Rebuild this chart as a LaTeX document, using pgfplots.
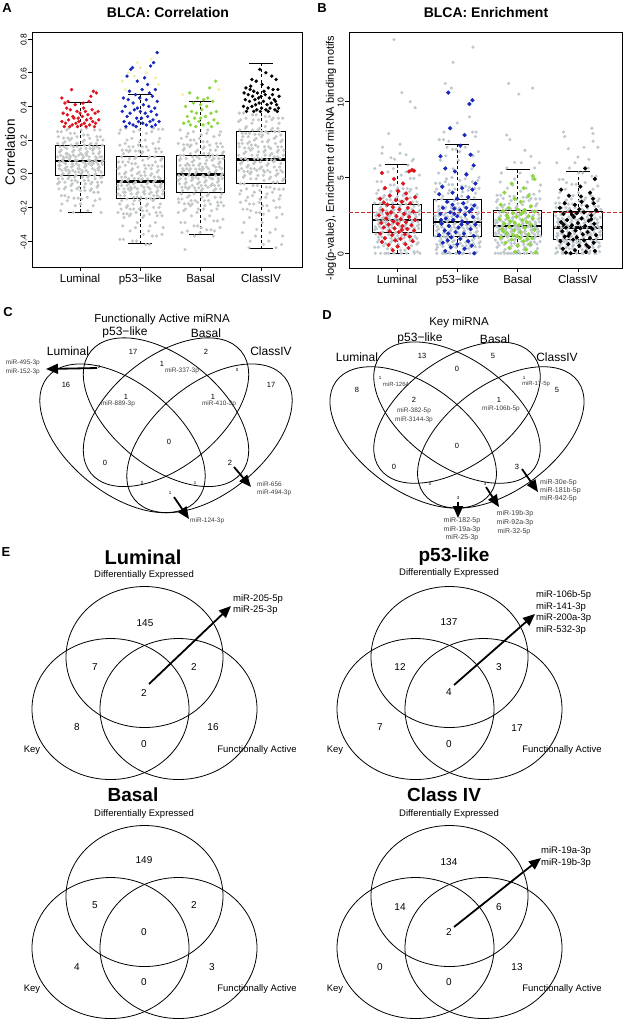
\documentclass[border=0pt]{standalone}
\usepackage{pgfplots}
\pgfplotsset{compat=1.18}
\usepackage{pgfplotstable}
\usepgfplotslibrary{statistics}
\usetikzlibrary{arrows.meta}
\usepackage{fontspec}
\setmainfont{Liberation Sans}
\setsansfont{Liberation Sans}

\definecolor{ptgray}{RGB}{196,199,199}
\definecolor{ptgrayb}{RGB}{190,200,205}
\definecolor{ptred}{RGB}{222,20,30}
\definecolor{ptblue}{RGB}{25,40,190}
\definecolor{ptgreen}{RGB}{140,215,60}
\definecolor{ptyellow}{RGB}{243,238,165}
\definecolor{mirgray}{RGB}{60,60,60}
\definecolor{cutred}{RGB}{205,40,40}

\newcommand{\fs}[1]{\fontsize{#1}{#1}\selectfont}
\newcommand{\T}[4][]{\node[inner sep=0pt,#1] at (axis cs:#2,#3) {#4};}

\tikzset{
  vennarrow/.style={line width=1.8pt, -{Triangle[length=12pt,width=10pt]}},
  earrow/.style={line width=1.8pt, -{Triangle[length=12pt,width=10pt]}},
  venn/.style={line width=0.8pt, black},
}

% jitter offsets (two per row) and values read per category: a* = correlation, b* = enrichment
\pgfplotstableread{
dx dxb aL aP aB aC bL bP bB bC
-0.19 0.12 -0.14 -0.03 -0.08 0.24 1.03 3.05 1.64 4.66
-0.37 -0.07 0.10 -0.23 0.18 0.02 3.32 1.12 0 1.74
0.20 -0.25 -0.05 0.05 -0.03 0.33 1.65 4.34 2.08 0.15
0.01 0.32 0.15 -0.14 -0.32 0.09 4.30 1.68 0.61 2.23
-0.17 0.13 0.01 0.14 0.03 -0.22 2.10 7.00 2.64 0.72
-0.36 -0.05 0.22 -0.09 -0.17 0.16 0 2.26 1.21 3.03
0.22 -0.24 0.06 0.27 0.09 -0.09 2.59 0.45 3.62 1.21
0.03 0.33 -0.15 -0.03 -0.09 0.23 0.98 3.00 1.61 4.44
-0.16 0.15 0.10 -0.24 0.17 0.01 3.25 1.08 0 1.70
-0.34 -0.04 -0.05 0.04 -0.03 0.32 1.62 4.24 2.05 0.08
0.23 -0.22 0.15 -0.15 -0.34 0.08 4.23 1.64 0.57 2.19
0.04 0.35 0.01 0.13 0.03 -0.24 2.07 6.71 2.57 0.69
-0.14 0.16 0.21 -0.09 -0.18 0.15 0 2.21 1.17 2.96
-0.33 -0.02 0.05 0.26 0.09 -0.10 2.55 0.40 3.55 1.18
0.25 -0.21 -0.16 -0.04 -0.09 0.22 0.93 2.94 1.58 4.23
0.06 0.36 0.10 -0.25 0.16 0.01 3.18 1.03 5.97 1.67
-0.13 0.18 -0.06 0.03 -0.03 0.32 1.58 4.15 2.01 0
-0.31 -0.01 0.14 -0.16 -0.35 0.07 4.16 1.60 0.53 2.16
0.26 -0.19 0.00 0.13 0.02 -0.26 2.04 6.43 2.50 0.65
0.07 0.38 0.20 -0.10 -0.19 0.14 0 2.16 1.12 2.89
-0.11 0.19 0.05 0.25 0.08 -0.11 2.52 0.32 3.48 1.14
-0.30 0.01 -0.18 -0.04 -0.10 0.22 0.89 2.89 1.55 4.01
0.28 -0.18 0.09 -0.25 0.16 0.00 3.11 0.99 5.63 1.63
0.09 -0.37 -0.06 0.03 -0.04 0.31 1.55 4.05 1.98 0
-0.10 0.21 0.14 -0.16 -0.37 0.07 4.09 1.56 0.49 2.12
-0.28 0.02 0.00 0.12 0.02 -0.29 2.01 6.14 2.47 0.62
0.29 -0.17 0.20 -0.10 -0.19 0.14 0 2.10 1.08 2.82
0.10 -0.35 0.05 0.24 0.08 -0.12 2.48 0.24 3.41 1.11
-0.08 0.22 -0.19 -0.05 -0.10 0.21 0.84 2.84 1.53 3.80
-0.27 0.04 0.09 -0.26 0.15 -0.01 3.04 0.94 5.30 1.60
0.30 -0.15 -0.07 0.02 -0.04 0.30 1.50 3.96 1.94 0
0.12 -0.34 0.13 -0.18 0.26 0.06 3.95 1.49 0.40 2.05
-0.07 0.24 -0.01 0.10 0.01 -0.33 1.94 5.57 2.40 0.55
-0.25 0.05 0.19 -0.11 -0.21 0.13 6.60 2.01 1.00 2.68
0.32 -0.14 0.04 0.21 0.07 -0.13 2.41 0.08 3.27 1.04
0.13 -0.32 -0.22 -0.05 -0.12 0.20 0.74 2.73 1.47 3.66
-0.05 0.25 0.08 -0.29 0.14 -0.01 2.90 0.85 4.90 1.53
-0.24 0.07 -0.08 0.01 -0.05 0.28 1.41 3.77 1.87 0
0.33 -0.12 0.13 -0.18 0.25 0.06 3.88 1.45 0.32 2.02
0.15 -0.31 -0.01 0.10 0.01 -0.35 1.91 5.29 2.36 0.51
-0.04 0.27 0.18 -0.11 -0.21 0.13 6.20 1.98 0.95 2.61
-0.22 0.08 0.04 0.20 0.06 -0.14 2.38 0 3.20 1.00
0.35 -0.11 -0.23 -0.06 -0.12 0.20 0.70 2.68 1.44 3.59
0.16 -0.29 0.08 -0.31 0.14 -0.02 2.87 0.81 4.70 1.49
-0.02 0.28 -0.08 0.01 -0.05 0.27 1.36 3.67 1.84 0
-0.21 0.10 0.12 -0.19 0.24 0.05 3.81 1.41 0.24 1.98
0.36 -0.09 -0.02 0.09 0.00 -0.37 1.88 5.00 2.33 0.48
0.18 -0.28 0.18 -0.11 -0.22 0.12 5.80 1.94 0.91 2.54
-0.01 0.30 0.03 0.19 0.06 -0.15 2.34 0 3.13 0.97
-0.19 0.11 0.27 -0.06 -0.13 0.19 0.65 2.63 1.42 3.52
0.38 -0.08 0.08 -0.32 0.13 -0.03 2.83 0.76 4.50 1.46
0.19 -0.26 -0.09 0.00 -0.06 0.27 1.31 3.58 1.80 0
0.01 0.31 0.12 -0.20 0.23 0.04 3.74 1.38 0.16 1.95
-0.18 0.13 -0.02 0.09 0.00 -0.40 1.84 4.91 2.29 0.44
-0.37 -0.06 0.18 -0.12 -0.23 0.11 5.59 1.90 0.87 2.47
0.21 -0.25 0.03 0.18 0.05 -0.16 2.31 0 3.06 0.93
0.02 0.33 0.26 -0.07 -0.14 0.19 0.60 2.58 1.39 3.45
-0.17 0.14 0.08 -0.34 0.12 -0.03 2.80 0.72 4.30 1.42
-0.35 -0.05 -0.09 0.00 -0.06 0.26 1.27 3.48 1.77 5.97
0.22 -0.23 0.12 -0.20 0.22 0.04 3.67 1.34 0.08 1.91
0.04 0.34 -0.02 0.08 -0.01 -0.42 1.81 4.81 2.26 0.41
-0.15 0.15 0.17 -0.12 -0.25 0.11 5.37 1.86 0.83 2.40
-0.34 -0.03 0.03 0.17 0.05 -0.17 2.27 0 2.99 0.90
0.24 -0.22 0.26 -0.07 -0.14 0.18 0.50 2.52 1.36 3.38
0.05 0.36 0.07 -0.36 0.12 -0.04 2.76 0.67 4.10 1.39
-0.14 0.17 -0.10 -0.01 -0.07 0.26 1.22 3.39 1.75 5.63
-0.32 -0.02 0.11 -0.21 0.21 0.03 3.60 1.30 0 1.88
0.25 -0.20 -0.03 0.07 -0.01 -0.44 1.78 4.72 2.22 0.37
0.07 0.37 0.17 -0.12 -0.27 0.11 5.16 1.83 0.78 2.37
-0.12 -0.19 0.02 0.16 0.05 -0.18 2.24 0 2.92 0.86
-0.31 -0.37 0.25 -0.07 -0.15 0.18 0.40 2.47 1.33 3.31
0.27 0.20 0.07 -0.37 0.11 -0.05 2.73 0.63 3.90 1.35
0.08 0.01 -0.10 -0.01 -0.07 0.25 1.17 3.29 1.72 5.30
-0.11 -0.17 0.11 -0.21 0.20 0.03 3.53 1.26 0 1.84
-0.29 -0.36 -0.03 0.07 -0.01 0.36 1.75 4.62 2.19 0.34
0.28 0.22 0.16 -0.13 -0.28 0.10 4.94 1.79 0.74 2.33
0.10 0.03 0.02 0.16 0.04 -0.19 2.20 0 2.85 0.83
-0.09 -0.16 0.24 -0.08 -0.16 0.17 0.30 2.42 1.31 3.24
-0.28 -0.34 0.07 -0.39 0.11 -0.06 2.69 0.58 3.83 1.32
0.30 0.23 -0.11 -0.02 -0.07 0.25 1.12 3.20 1.69 5.09
0.11 0.04 0.11 -0.22 0.19 0.02 3.46 1.21 0 1.81
-0.08 -0.14 -0.04 0.06 -0.02 0.35 1.71 4.53 2.15 0.30
-0.26 -0.33 0.16 -0.13 -0.29 0.09 4.73 1.75 0.70 2.30
0.31 0.25 0.02 0.15 0.04 -0.20 2.17 8.00 2.78 0.79
0.13 0.06 0.23 -0.08 -0.16 0.16 0.20 2.37 1.28 3.17
-0.06 -0.13 0.06 -0.40 0.10 -0.07 2.66 0.54 3.76 1.28
-0.25 -0.31 -0.13 -0.02 -0.08 0.24 1.08 3.10 1.66 4.87
0.33 0.26 0.10 -0.23 0.18 0.02 3.39 1.17 0 1.77
0.14 0.07 -0.04 0.05 -0.02 0.34 1.68 4.43 2.12 0.23
-0.05 -0.11 0.16 -0.14 -0.31 0.09 4.51 1.71 0.66 2.26
-0.23 -0.30 0.02 0.14 0.03 -0.21 2.14 7.50 2.71 0.76
0.34 0.28 0.22 -0.08 -0.17 0.16 0.10 2.31 1.25 3.10
0.15 0.09 0.06 -0.42 0.10 -0.08 2.62 0.49 3.69 1.25
-0.03 -0.10 -0.145 -0.028 -0.084 0.234 1.00 3.03 1.62 4.55
-0.22 -0.28 0.100 -0.238 0.172 0.013 3.29 1.10 0 1.72
0.36 0.29 -0.051 0.044 -0.028 0.330 1.64 4.29 2.07 0.11
0.17 0.10 0.150 -0.147 -0.333 0.083 4.27 1.66 0.59 2.21
-0.02 -0.08 0.010 0.135 0.028 -0.231 2.09 6.86 2.61 0.71
-0.20 -0.27 0.212 -0.090 -0.178 0.153 0 2.24 1.19 3.00
0.37 0.30 0.056 0.264 0.090 -0.092 2.57 0.43 3.59 1.20
}\jitter

\pgfplotsset{
  boxstyle/.style={
    boxplot/draw direction=y,
    boxplot/box extend=0.8, boxplot/whisker extend=0.4,
    boxplot/every box/.style={line width=0.9pt},
    boxplot/every whisker/.style={line width=0.9pt},
    boxplot/every median/.style={line width=2.4pt},
    boxplot/draw/lower whisker/.code={%
      \draw[/pgfplots/boxplot/every whisker/.try, dash pattern=on 3pt off 2.5pt]
        (boxplot box cs:\pgfplotsboxplotvalue{lower whisker},0.5)
        -- (boxplot box cs:\pgfplotsboxplotvalue{lower quartile},0.5);
      \draw[/pgfplots/boxplot/every whisker/.try]
        (boxplot whisker cs:\pgfplotsboxplotvalue{lower whisker},0)
        -- (boxplot whisker cs:\pgfplotsboxplotvalue{lower whisker},1);
    },
    boxplot/draw/upper whisker/.code={%
      \draw[/pgfplots/boxplot/every whisker/.try, dash pattern=on 3pt off 2.5pt]
        (boxplot box cs:\pgfplotsboxplotvalue{upper whisker},0.5)
        -- (boxplot box cs:\pgfplotsboxplotvalue{upper quartile},0.5);
      \draw[/pgfplots/boxplot/every whisker/.try]
        (boxplot whisker cs:\pgfplotsboxplotvalue{upper whisker},0)
        -- (boxplot whisker cs:\pgfplotsboxplotvalue{upper whisker},1);
    },
  },
  panel/.style={
    scale only axis, tick align=outside, tick pos=left, major tick length=4pt,
    every tick/.style={black, line width=0.7pt},
    axis line style={line width=0.9pt},
    xtick={1,2,3,4}, xticklabels={Luminal,p53−like,Basal,ClassIV},
    xticklabel style={font=\fs{11.5}, inner sep=1pt, yshift=-2pt},
    yticklabel style={font=\fs{8.5}, rotate=90, anchor=south, inner sep=1pt, xshift=-1pt},
    /pgf/number format/assume math mode=true,
    boxstyle,
  },
  gray pts/.style={only marks, mark=*, mark size=1.4pt, #1},
}

\begin{document}
\begin{tikzpicture}
\path (0pt,0pt) rectangle (634pt,-1020pt);

% ---------- A: correlation ----------
\begin{axis}[panel, at={(32pt,-32pt)}, anchor=north west, width=270pt, height=235pt,
  xmin=0.204, xmax=4.68, ymin=-0.554, ymax=0.842,
  ytick={-0.4,-0.2,0,0.2,0.4,0.6,0.8},
  yticklabel style={/pgf/number format/fixed, /pgf/number format/fixed zerofill, /pgf/number format/precision=1}]
\addplot[gray pts=ptgray] table[x expr=\thisrow{dx}+1, y=aL] {\jitter};
\addplot[gray pts=ptgray] table[x expr=\thisrow{dxb}+1, y=aL] {\jitter};
\addplot[gray pts=ptgray] table[x expr=\thisrow{dx}+2, y=aP] {\jitter};
\addplot[gray pts=ptgray] table[x expr=\thisrow{dxb}+2, y=aP] {\jitter};
\addplot[gray pts=ptgray] table[x expr=\thisrow{dx}+3, y=aB] {\jitter};
\addplot[gray pts=ptgray] table[x expr=\thisrow{dxb}+3, y=aB] {\jitter};
\addplot[gray pts=ptgray] table[x expr=\thisrow{dx}+4, y=aC] {\jitter};
\addplot[gray pts=ptgray] table[x expr=\thisrow{dxb}+4, y=aC] {\jitter};
\addplot[gray pts=ptgray] coordinates {(2.74,-0.45)};
\addplot[black, boxplot prepared={draw position=1, median=0.075, lower quartile=-0.01, upper quartile=0.17, lower whisker=-0.23, upper whisker=0.425}] coordinates {};
\addplot[black, boxplot prepared={draw position=2, median=-0.045, lower quartile=-0.145, upper quartile=0.105, lower whisker=-0.415, upper whisker=0.47}] coordinates {};
\addplot[black, boxplot prepared={draw position=3, median=-0.005, lower quartile=-0.11, upper quartile=0.11, lower whisker=-0.36, upper whisker=0.43}] coordinates {};
\addplot[black, boxplot prepared={draw position=4, median=0.085, lower quartile=-0.06, upper quartile=0.25, lower whisker=-0.445, upper whisker=0.655}] coordinates {};
\addplot[gray pts=ptyellow] coordinates {(1.80,0.60)(2.00,0.63)(2.10,0.60)(1.90,0.58)(2.25,0.57)(1.70,0.55)(2.30,0.53)(1.75,0.50)(2.18,0.68)(1.95,0.66)(2.70,0.47)(3.30,0.50)};
\addplot[only marks, mark=*, mark size=1.5pt, ptred] coordinates {(0.70,0.45)(0.75,0.42)(0.80,0.43)(0.86,0.50)(1.05,0.42)(1.18,0.46)(1.22,0.49)(1.27,0.48)(1.15,0.43)(0.92,0.41)(0.72,0.36)(0.79,0.35)(0.84,0.38)(0.90,0.33)(0.95,0.37)(1.00,0.36)(1.04,0.34)(1.09,0.37)(1.13,0.35)(1.20,0.38)(1.25,0.36)(1.30,0.37)(0.70,0.31)(0.76,0.30)(0.81,0.32)(0.87,0.29)(0.93,0.30)(0.98,0.31)(1.02,0.29)(1.07,0.30)(1.11,0.32)(1.16,0.29)(1.21,0.31)(1.26,0.30)(1.31,0.32)(0.74,0.28)(0.83,0.28)(0.96,0.28)(1.10,0.28)(1.24,0.28)(0.88,0.34)(1.18,0.33)(0.78,0.39)(1.06,0.39)(0.97,0.33)};
\addplot[only marks, mark=*, mark size=1.5pt, ptblue] coordinates {(2.28,0.72)(2.22,0.66)(1.87,0.63)(1.84,0.62)(2.17,0.64)(1.78,0.58)(2.07,0.57)(1.95,0.55)(2.12,0.53)(2.03,0.50)(2.25,0.50)(1.82,0.49)(2.15,0.48)(1.92,0.47)(1.72,0.45)(1.80,0.44)(1.99,0.45)(2.10,0.44)(2.20,0.46)(2.28,0.43)(1.88,0.42)(2.05,0.41)(1.75,0.40)(1.95,0.39)(2.14,0.40)(2.24,0.39)(1.70,0.37)(1.83,0.36)(1.90,0.38)(2.00,0.37)(2.08,0.36)(2.18,0.37)(2.27,0.35)(1.78,0.34)(1.94,0.33)(2.12,0.34)(2.21,0.32)(1.73,0.31)(1.82,0.30)(1.88,0.29)(1.97,0.31)(2.04,0.30)(2.10,0.29)(2.16,0.31)(2.25,0.29)(2.31,0.31)(1.76,0.28)(1.93,0.28)(2.19,0.28)(2.02,0.33)};
\addplot[only marks, mark=*, mark size=1.5pt, ptgreen] coordinates {(2.82,0.48)(3.25,0.55)(3.15,0.51)(2.95,0.45)(3.05,0.44)(3.12,0.45)(2.88,0.42)(3.20,0.43)(2.75,0.40)(3.00,0.41)(3.10,0.40)(2.85,0.37)(2.93,0.36)(3.02,0.38)(3.17,0.36)(3.26,0.37)(2.78,0.34)(2.90,0.33)(3.08,0.34)(3.22,0.32)(2.72,0.30)(2.83,0.29)(2.97,0.31)(3.04,0.29)(3.13,0.30)(3.28,0.30)(2.92,0.28)(3.18,0.28)(3.00,0.33)(2.80,0.31)};
\addplot[only marks, mark=*, mark size=1.5pt, black] coordinates {(3.98,0.62)(4.08,0.60)(4.18,0.58)(4.25,0.56)(3.85,0.56)(3.92,0.55)(4.02,0.53)(3.75,0.51)(3.82,0.50)(3.88,0.49)(4.12,0.51)(4.20,0.50)(4.28,0.50)(3.72,0.48)(3.79,0.47)(3.86,0.46)(3.94,0.48)(4.00,0.46)(4.07,0.47)(4.14,0.45)(4.22,0.44)(4.30,0.46)(3.74,0.44)(3.81,0.43)(3.90,0.44)(3.97,0.42)(4.04,0.43)(4.10,0.41)(4.17,0.42)(4.26,0.41)(3.71,0.40)(3.78,0.39)(3.85,0.40)(3.93,0.38)(4.01,0.39)(4.08,0.38)(4.15,0.39)(4.23,0.38)(4.29,0.39)(3.76,0.37)(3.88,0.37)(3.99,0.37)(4.12,0.37)(4.27,0.37)(3.83,0.52)(4.05,0.49)(3.96,0.45)(4.19,0.47)(3.91,0.41)(4.24,0.43)};
\end{axis}

% ---------- B: enrichment ----------
\begin{axis}[panel, at={(349pt,-32pt)}, anchor=north west, width=273pt, height=236pt,
  xmin=0.204, xmax=4.73, ymin=-0.97, ymax=14.6, ytick={0,5,10}]
\addplot[gray pts=ptgrayb] table[x expr=\thisrow{dx}+1, y=bL] {\jitter};
\addplot[gray pts=ptgrayb] table[x expr=\thisrow{dxb}+1, y=bL] {\jitter};
\addplot[gray pts=ptgrayb] table[x expr=\thisrow{dx}+2, y=bP] {\jitter};
\addplot[gray pts=ptgrayb] table[x expr=\thisrow{dxb}+2, y=bP] {\jitter};
\addplot[gray pts=ptgrayb] table[x expr=\thisrow{dx}+3, y=bB] {\jitter};
\addplot[gray pts=ptgrayb] table[x expr=\thisrow{dxb}+3, y=bB] {\jitter};
\addplot[gray pts=ptgrayb] table[x expr=\thisrow{dx}+4, y=bC] {\jitter};
\addplot[gray pts=ptgrayb] table[x expr=\thisrow{dxb}+4, y=bC] {\jitter};
\addplot[gray pts=ptgrayb] coordinates {(0.95,14.1)(1.08,10.6)(1.30,9.6)(1.22,10.0)(0.86,7.9)(0.76,7.0)(1.05,7.2)(1.15,6.5)(0.90,6.3)(1.25,6.1)(2.26,13.6)(1.93,12.6)(1.80,11.2)(1.90,10.9)(2.20,9.0)(1.78,8.0)(2.30,7.7)(2.00,8.6)(1.86,7.4)(2.85,11.2)(3.02,10.5)(3.25,10.9)(2.82,7.8)(2.87,7.5)(3.22,6.4)(2.95,6.0)(3.12,6.8)(3.76,8.0)(3.78,7.7)(4.23,8.25)(4.25,7.9)(4.10,7.0)(4.33,7.0)(4.25,7.4)(4.00,6.35)(3.84,6.9)(4.18,6.2)};
\addplot[black, boxplot prepared={draw position=1, median=2.2, lower quartile=1.4, upper quartile=3.2, lower whisker=0, upper whisker=5.85}] coordinates {};
\addplot[black, boxplot prepared={draw position=2, median=2.05, lower quartile=1.1, upper quartile=3.55, lower whisker=0, upper whisker=7.2}] coordinates {};
\addplot[black, boxplot prepared={draw position=3, median=1.8, lower quartile=1.1, upper quartile=2.85, lower whisker=0, upper whisker=5.5}] coordinates {};
\addplot[black, boxplot prepared={draw position=4, median=1.7, lower quartile=0.9, upper quartile=2.75, lower whisker=0, upper whisker=5.4}] coordinates {};
\addplot[only marks, mark=*, mark size=1.9pt, ptred] coordinates {(0.75,5.3)(1.20,5.4)(1.25,5.5)(1.28,5.45)(0.95,4.9)(1.10,4.6)(0.80,4.3)(1.02,4.1)(1.15,3.95)(0.88,3.8)(1.30,3.7)(0.72,3.6)(0.98,3.5)(1.08,3.4)(1.22,3.3)(0.84,3.2)(0.93,3.05)(1.18,3.0)(1.04,2.9)(0.76,2.85)(1.27,2.75)(0.90,2.7)(1.12,2.6)(0.70,2.5)(0.99,2.45)(1.20,2.4)(0.82,2.3)(1.06,2.25)(1.30,2.2)(0.94,2.1)(1.15,2.05)(0.74,2.0)(1.01,1.95)(0.86,1.9)(1.24,1.85)(1.09,1.8)(0.78,1.7)(0.96,1.65)(1.17,1.6)(1.28,1.5)(0.88,1.45)(1.03,1.4)(0.72,1.3)(1.13,1.25)(0.92,1.2)(1.21,1.1)(0.80,1.0)(1.06,0.95)(0.97,0.85)(1.26,0.8)(0.75,0.75)(1.14,0.6)(0.86,0.55)(1.01,0.45)(1.19,0.35)(0.93,0.2)(1.08,1.55)(0.84,2.6)(1.16,3.6)(0.78,3.35)};
\addplot[only marks, mark=*, mark size=1.9pt, ptblue] coordinates {(1.85,10.6)(2.25,10.1)(2.20,9.85)(1.88,8.25)(2.12,7.8)(2.05,7.1)(2.22,6.5)(1.72,6.4)(2.27,5.8)(1.80,5.6)(1.96,5.4)(2.15,5.2)(2.30,4.6)(1.75,4.4)(2.08,4.3)(2.25,4.2)(1.92,4.0)(1.70,3.9)(2.18,3.7)(2.00,3.6)(1.83,3.4)(2.10,3.3)(2.28,3.15)(1.76,3.0)(1.95,2.95)(2.05,2.85)(2.20,2.75)(1.88,2.7)(1.72,2.6)(2.13,2.55)(2.00,2.45)(2.26,2.4)(1.81,2.3)(1.93,2.2)(2.08,2.1)(2.17,2.0)(1.74,1.95)(2.30,1.9)(1.86,1.8)(2.02,1.7)(2.22,1.6)(1.79,1.5)(1.97,1.4)(2.11,1.3)(1.70,1.2)(2.27,1.15)(1.90,1.05)(2.05,0.95)(1.84,0.85)(2.18,0.8)(1.76,0.7)(2.00,0.6)(2.24,0.5)(1.89,0.4)(2.12,0.3)(1.80,0.15)(2.03,0.05)(2.28,0.0)(1.95,2.6)(2.15,3.0)(1.73,2.2)(2.07,1.9)(1.92,3.2)(2.24,2.9)(1.85,1.3)};
\addplot[only marks, mark=*, mark size=1.9pt, ptgreen] coordinates {(3.25,5.1)(3.28,4.9)(2.90,4.6)(3.10,4.3)(2.78,4.0)(3.18,3.8)(2.95,3.6)(3.05,3.4)(2.72,3.2)(3.22,3.1)(2.85,3.0)(3.00,2.9)(3.12,2.85)(2.76,2.8)(3.28,2.75)(2.92,2.65)(3.06,2.6)(2.82,2.5)(3.18,2.45)(2.98,2.4)(3.25,2.3)(2.70,2.25)(3.08,2.2)(2.88,2.1)(3.15,2.05)(2.95,2.0)(2.78,1.95)(3.22,1.9)(3.02,1.85)(2.86,1.75)(3.12,1.7)(2.74,1.6)(3.28,1.55)(2.94,1.5)(3.05,1.4)(2.82,1.3)(3.18,1.25)(2.99,1.15)(2.72,1.05)(3.24,1.0)(2.90,0.9)(3.10,0.8)(2.80,0.7)(3.20,0.6)(3.00,0.5)(2.86,0.35)(3.14,0.25)(2.96,0.1)(3.30,0.05)(2.76,1.45)(3.08,2.7)(2.92,1.2)(3.16,0.95)(2.84,2.35)(3.04,1.0)};
\addplot[only marks, mark=*, mark size=1.9pt, black] coordinates {(4.12,5.6)(4.28,4.9)(3.72,4.2)(4.20,4.0)(3.85,3.8)(4.05,3.75)(4.25,3.6)(3.78,3.3)(3.95,3.2)(4.15,3.1)(3.70,3.0)(4.02,2.9)(4.30,2.85)(3.88,2.75)(4.10,2.7)(3.76,2.6)(4.22,2.5)(3.93,2.4)(4.06,2.3)(3.82,2.2)(4.18,2.15)(3.72,2.05)(4.00,2.0)(4.27,1.95)(3.90,1.85)(4.12,1.8)(3.80,1.7)(4.04,1.65)(4.24,1.6)(3.96,1.5)(3.74,1.45)(4.16,1.4)(3.86,1.3)(4.08,1.25)(4.30,1.2)(3.78,1.1)(3.98,1.05)(4.20,1.0)(3.92,0.9)(4.10,0.85)(3.71,0.8)(4.26,0.7)(3.84,0.6)(4.02,0.5)(4.18,0.4)(3.75,0.3)(3.95,0.2)(4.13,0.1)(3.88,0.0)(4.28,0.15)(3.80,0.05)(4.06,3.4)(3.90,2.55)(4.22,2.25)(3.76,1.9)(4.14,0.55)(3.98,2.65)(4.26,3.3)(3.84,1.15)(4.04,4.4)};
\addplot[cutred, line width=0.8pt, dash pattern=on 4pt off 2pt] coordinates {(0.204,2.7) (4.73,2.7)};
\end{axis}

% ---------- overlay: titles and Venn diagrams (pixel coordinates) ----------
\begin{axis}[at={(0pt,0pt)}, anchor=north west, scale only axis, width=634pt, height=1020pt,
  xmin=0, xmax=634, ymin=0, ymax=1020, y dir=reverse, hide axis, clip=false]
\T{7}{8}{\fs{13}\bfseries A}
\T{322}{8}{\fs{13}\bfseries B}
\T{168}{12}{\fs{14}\bfseries BLCA: Correlation}
\T{486}{12}{\fs{14}\bfseries BLCA: Enrichment}
\T[rotate=90]{10}{152}{\fs{13.5}Correlation}
\T[rotate=90]{331}{158}{\fs{11}-log(p-value), Enrichment of miRNA binding motifs}

% ---------- C ----------
\draw[venn, rotate around={-39.1:(axis cs:122.5,438.3)}] (axis cs:122.5,438.3) ellipse [x radius=96.8, y radius=54.7];
\draw[venn, rotate around={-39.1:(axis cs:166,412.2)}] (axis cs:166,412.2) ellipse [x radius=96.8, y radius=54.7];
\draw[venn, rotate around={39.1:(axis cs:166,412.2)}] (axis cs:166,412.2) ellipse [x radius=96.8, y radius=54.7];
\draw[venn, rotate around={39.1:(axis cs:209.5,438.3)}] (axis cs:209.5,438.3) ellipse [x radius=96.8, y radius=54.7];
\T{8}{312}{\fs{13}\bfseries C}
\T{162}{320}{\fs{11.5}Functionally Active miRNA}
\T{125}{332}{\fs{12}p53−like}
\T{206}{333}{\fs{12}Basal}
\T{68}{351}{\fs{12}Luminal}
\T{271}{351}{\fs{12}ClassIV}
\T{133}{352}{\fs{7.5}17}
\T{206}{352}{\fs{7.5}2}
\T{66}{385}{\fs{7.5}16}
\T{271}{385}{\fs{7.5}17}
\T{99}{367}{\fs{4.5}2}
\T{237}{370}{\fs{4.5}0}
\T{162}{364}{\fs{7.5}1}
\T{182}{371}{\color{mirgray}\fs{6.5}miR-337-3p}
\T{126}{397}{\fs{7.5}1}
\T{118}{404}{\color{mirgray}\fs{6.5}miR-889-3p}
\T{213}{397}{\fs{7.5}1}
\T{219}{404}{\color{mirgray}\fs{6.5}miR-410-3p}
\T{169}{442}{\fs{7.5}0}
\T{105}{463}{\fs{7.5}0}
\T{230}{463}{\fs{7.5}2}
\T{142}{483}{\fs{4.5}0}
\T{195}{483}{\fs{4.5}1}
\T{170}{493}{\fs{4.5}1}
\draw[vennarrow] (axis cs:97,368) -- (axis cs:46,369);
\draw[vennarrow] (axis cs:234,467) -- (axis cs:251,487);
\draw[vennarrow] (axis cs:174,497) -- (axis cs:189,519);
\T[anchor=east]{40}{363}{\color{mirgray}\fs{6.5}miR-495-3p}
\T[anchor=east]{40}{372}{\color{mirgray}\fs{6.5}miR-152-3p}
\T[anchor=west]{257}{484}{\color{mirgray}\fs{6.5}miR-656}
\T[anchor=west]{257}{493}{\color{mirgray}\fs{6.5}miR-494-3p}
\T[anchor=west]{190}{521}{\color{mirgray}\fs{6.5}miR-124-3p}

% ---------- D ----------
\draw[venn, rotate around={-36.05:(axis cs:413.2,437.4)}] (axis cs:413.2,437.4) ellipse [x radius=95.4, y radius=53.1];
\draw[venn, rotate around={-36.05:(axis cs:457,412.6)}] (axis cs:457,412.6) ellipse [x radius=95.4, y radius=53.1];
\draw[venn, rotate around={36.05:(axis cs:457,412.6)}] (axis cs:457,412.6) ellipse [x radius=95.4, y radius=53.1];
\draw[venn, rotate around={36.05:(axis cs:500.8,437.4)}] (axis cs:500.8,437.4) ellipse [x radius=95.4, y radius=53.1];
\T{327}{315}{\fs{13}\bfseries D}
\T{459}{323}{\fs{11.5}Key miRNA}
\T{420}{338}{\fs{12}p53−like}
\T{495}{339}{\fs{12}Basal}
\T{357}{357}{\fs{12}Luminal}
\T{557}{357}{\fs{12}ClassIV}
\T{422}{356}{\fs{7.5}13}
\T{493}{356}{\fs{7.5}5}
\T{357}{390}{\fs{7.5}8}
\T{557}{390}{\fs{7.5}5}
\T{457}{369}{\fs{7.5}0}
\T{380}{378}{\fs{4.5}1}
\T{396}{384}{\color{mirgray}\fs{6}miR-1264}
\T{524}{378}{\fs{4.5}1}
\T{536}{384}{\color{mirgray}\fs{6}miR-17-5p}
\T{414}{400}{\fs{7.5}2}
\T{414}{411}{\color{mirgray}\fs{6.5}miR-382-5p}
\T{414}{420}{\color{mirgray}\fs{6.5}miR-3144-3p}
\T{499}{400}{\fs{7.5}1}
\T{501}{409}{\color{mirgray}\fs{6.5}miR-106b-5p}
\T{457}{446}{\fs{7.5}0}
\T{394}{467}{\fs{7.5}0}
\T{517}{467}{\fs{7.5}3}
\T{430}{484}{\fs{4.5}0}
\T{485}{484}{\fs{4.5}3}
\T{458}{498}{\fs{4.5}3}
\draw[vennarrow] (axis cs:522,469) -- (axis cs:538,492);
\draw[vennarrow] (axis cs:486,487) -- (axis cs:499,507);
\draw[vennarrow] (axis cs:458,502) -- (axis cs:458,518);
\T[anchor=west]{540}{483}{\color{mirgray}\fs{7}miR-30e-5p}
\T[anchor=west]{540}{491}{\color{mirgray}\fs{7}miR-181b-5p}
\T[anchor=west]{540}{499}{\color{mirgray}\fs{7}miR-942-5p}
\T{515}{514}{\color{mirgray}\fs{7}miR-19b-3p}
\T{515}{523}{\color{mirgray}\fs{7}miR-92a-3p}
\T{514}{532}{\color{mirgray}\fs{7}miR-32-5p}
\T{462}{521}{\color{mirgray}\fs{7}miR-182-5p}
\T{462}{530}{\color{mirgray}\fs{7}miR-19a-3p}
\T{462}{538}{\color{mirgray}\fs{7}miR-25-3p}

% ---------- E ----------
\T{6}{552}{\fs{13}\bfseries E}
\draw[venn] (axis cs:144.5,657) ellipse [x radius=78.5, y radius=70.5];
\draw[venn] (axis cs:110.5,709) ellipse [x radius=78.5, y radius=70.5];
\draw[venn] (axis cs:178.5,709) ellipse [x radius=78.5, y radius=70.5];
\T{143}{557}{\fs{20}\bfseries Luminal}
\T{144}{575}{\fs{9.5}Differentially Expressed}
\T{145}{623}{\fs{10}145}
\T{95}{667}{\fs{10}7}
\T{194}{667}{\fs{10}2}
\T{144}{693}{\fs{10}2}
\T{77}{727}{\fs{10}8}
\T{213}{727}{\fs{10}16}
\T{144}{744}{\fs{10}0}
\T{32}{750}{\fs{9.5}Key}
\T{257}{750}{\fs{9.5}Functionally Active}
\draw[earrow] (axis cs:149,684) -- (axis cs:231,606);
\T[anchor=west]{233}{599}{\fs{9.5}miR-205-5p}
\T[anchor=west]{233}{610}{\fs{9.5}miR-25-3p}
\draw[venn] (axis cs:449.5,657) ellipse [x radius=78.5, y radius=70.5];
\draw[venn] (axis cs:415.5,709) ellipse [x radius=78.5, y radius=70.5];
\draw[venn] (axis cs:483.5,709) ellipse [x radius=78.5, y radius=70.5];
\T{454}{557}{\fs{19}\bfseries p53-like}
\T{449}{573}{\fs{9.5}Differentially Expressed}
\T{449}{622}{\fs{10}137}
\T{400}{667}{\fs{10}12}
\T{499}{667}{\fs{10}3}
\T{449}{692}{\fs{10}4}
\T{380}{727}{\fs{10}7}
\T{517}{728}{\fs{10}17}
\T{449}{744}{\fs{10}0}
\T{335}{750}{\fs{9.5}Key}
\T{562}{750}{\fs{9.5}Functionally Active}
\draw[earrow] (axis cs:454,685) -- (axis cs:535,614);
\T[anchor=west]{536}{595}{\fs{9.5}miR-106b-5p}
\T[anchor=west]{536}{607}{\fs{9.5}miR-141-3p}
\T[anchor=west]{536}{618}{\fs{9.5}miR-200a-3p}
\T[anchor=west]{536}{630}{\fs{9.5}miR-532-3p}
\draw[venn] (axis cs:144.5,896) ellipse [x radius=78.5, y radius=70.5];
\draw[venn] (axis cs:110.5,948) ellipse [x radius=78.5, y radius=70.5];
\draw[venn] (axis cs:178.5,948) ellipse [x radius=78.5, y radius=70.5];
\T{133}{795}{\fs{19}\bfseries Basal}
\T{144}{814}{\fs{9.5}Differentially Expressed}
\T{144}{860}{\fs{10}149}
\T{95}{905}{\fs{10}5}
\T{194}{905}{\fs{10}2}
\T{144}{932}{\fs{10}0}
\T{77}{967}{\fs{10}4}
\T{212}{967}{\fs{10}3}
\T{144}{982}{\fs{10}0}
\T{32}{989}{\fs{9.5}Key}
\T{257}{989}{\fs{9.5}Functionally Active}
\draw[venn] (axis cs:449.5,896) ellipse [x radius=78.5, y radius=70.5];
\draw[venn] (axis cs:415.5,948) ellipse [x radius=78.5, y radius=70.5];
\draw[venn] (axis cs:483.5,948) ellipse [x radius=78.5, y radius=70.5];
\T{444}{795}{\fs{19}\bfseries Class IV}
\T{449}{814}{\fs{9.5}Differentially Expressed}
\T{449}{862}{\fs{10}134}
\T{400}{907}{\fs{10}14}
\T{499}{907}{\fs{10}6}
\T{449}{932}{\fs{10}2}
\T{380}{967}{\fs{10}0}
\T{517}{967}{\fs{10}13}
\T{449}{982}{\fs{10}0}
\T{335}{989}{\fs{9.5}Key}
\T{562}{989}{\fs{9.5}Functionally Active}
\draw[earrow] (axis cs:454,927) -- (axis cs:541,858);
\T[anchor=west]{541}{851}{\fs{9.5}miR-19a-3p}
\T[anchor=west]{541}{863}{\fs{9.5}miR-19b-3p}
\end{axis}
\end{tikzpicture}
\end{document}
